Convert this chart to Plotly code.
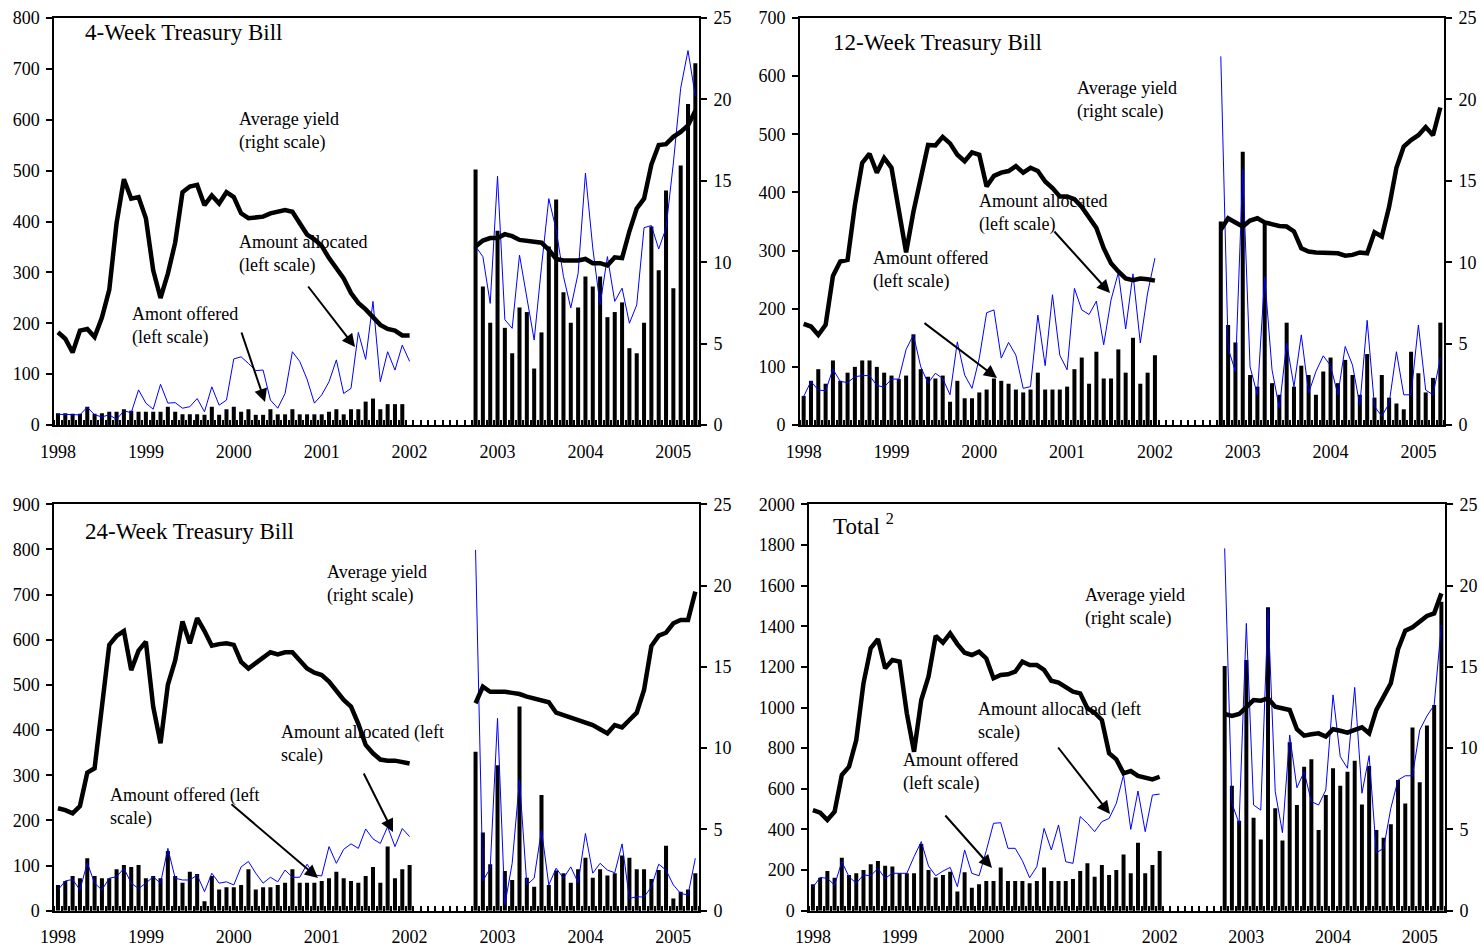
import plotly.graph_objects as go
import pandas as pd

# ---------------- data ----------------
months = pd.period_range("1998-01", "2005-04", freq="M")
period_1 = pd.period_range("1998-01", "2002-01", freq="M")
period_2 = pd.period_range("2002-10", "2005-04", freq="M")
year_labels = ["1998", "1999", "2000", "2001", "2002", "2003", "2004", "2005"]

# 4-Week Treasury Bill
w4_offered_1 = [23, 23, 22, 22, 36, 22, 23, 26, 26, 31, 28, 26,
                26, 26, 26, 36, 26, 21, 21, 21, 20, 36, 20, 31,
                36, 26, 31, 20, 20, 31, 21, 21, 31, 21, 21, 21,
                21, 26, 31, 21, 31, 31, 46, 52, 31, 41, 41, 41, None]
w4_allocated_1 = [21, 21, 20, 20, 35, 20, 16, 20, 11, 28, 24, 69,
                  43, 31, 80, 43, 44, 33, 36, 52, 26, 75, 39, 49,
                  130, 134, 121, 107, 108, 49, 33, 62, 144, 125, 90, 43,
                  59, 85, 128, 62, 72, 182, 129, 243, 85, 144, 108, 157, 125]
w4_yield_1 = [5.7, 5.3, 4.45, 5.8, 5.9, 5.4, 6.6, 8.3, 12.4, 15.1, 13.9, 14.0,
              12.7, 9.5, 7.8, 9.3, 11.2, 14.3, 14.65, 14.75, 13.5, 14.1, 13.6, 14.3,
              14.0, 13.0, 12.7, 12.75, 12.8, 13.0, 13.1, 13.2, 13.1, 12.4, 11.7, 11.4,
              11.0, 10.25, 9.6, 9.0, 8.1, 7.5, 7.1, 6.6, 6.15, 5.9, 5.8, 5.5, 5.5]
w4_offered_2 = [502, 272, 201, 382, 191, 141, 231, 222, 111, 182, 351, 443, 261, 201, 231,
                292, 272, 292, 212, 222, 241, 151, 141, 201, 390, 304, 461, 269, 510, 631, 711]
w4_allocated_2 = [351, 331, 239, 489, 207, 190, 334, 246, 167, 311, 445, 384, 292, 230, 298,
                  495, 348, 236, 331, 243, 269, 200, 236, 388, 392, 346, 387, 515, 662, 736, 646]
w4_yield_2 = [10.96, 11.33, 11.48, 11.48, 11.72, 11.6, 11.37, 11.3, 11.3, 11.2, 10.76, 10.2,
              10.1, 10.1, 10.1, 10.2, 9.94, 9.94, 9.8, 10.3, 10.25, 11.9, 13.3, 13.9, 16.0,
              17.2, 17.25, 17.7, 18.0, 18.4, 19.3]

# 12-Week Treasury Bill
w12_offered_1 = [50, 76, 96, 71, 111, 76, 90, 100, 111, 111, 100, 90,
                 85, 79, 85, 156, 96, 83, 80, 85, 40, 76, 46, 46,
                 56, 61, 80, 76, 71, 61, 56, 61, 90, 61, 61, 61,
                 66, 96, 116, 71, 126, 80, 80, 130, 90, 150, 71, 90, 120]
w12_allocated_1 = [49, 75, 60, 59, 96, 75, 73, 83, 85, 85, 68, 65,
                   79, 79, 130, 155, 100, 72, 89, 80, 52, 143, 86, 63,
                   115, 193, 198, 115, 142, 120, 63, 66, 189, 102, 224, 120,
                   95, 235, 198, 190, 213, 138, 215, 262, 165, 260, 141, 227, 287]
w12_yield_1 = [6.21, 6.05, 5.53, 6.15, 9.16, 10.04, 10.14, 13.5, 16.1, 16.66, 15.5, 16.4,
               15.8, 13.0, 10.6, 13.1, 15.2, 17.2, 17.17, 17.7, 17.3, 16.6, 16.2, 16.74,
               16.6, 14.65, 15.3, 15.5, 15.6, 15.9, 15.5, 15.8, 15.6, 14.96, 14.55, 14.04,
               14.04, 13.87, 13.4, 12.7, 12.1, 10.86, 9.94, 9.43, 9.0, 8.9, 9.0, 8.95, 8.87]
w12_offered_2 = [350, 172, 142, 470, 86, 66, 347, 72, 52, 176, 66, 102, 86, 52, 92,
                 116, 72, 112, 86, 52, 122, 47, 86, 47, 37, 27, 126, 89, 56, 81, 176]
w12_allocated_2 = [634, 132, 92, 439, 100, 52, 255, 95, 29, 141, 66, 155, 55, 92, 119,
                   102, 52, 135, 103, 34, 180, 32, 15, 37, 126, 52, 52, 172, 60, 52, 115]
w12_yield_2 = [11.99, 12.7, 12.44, 12.19, 12.56, 12.7, 12.44, 12.3, 12.23, 12.19, 11.89, 10.86,
               10.66, 10.6, 10.6, 10.55, 10.55, 10.4, 10.45, 10.6, 10.55, 11.84, 11.58, 13.4,
               15.8, 17.1, 17.5, 17.8, 18.3, 17.8, 19.5]

# 24-Week Treasury Bill
w24_offered_1 = [57, 66, 77, 72, 116, 77, 72, 72, 92, 101, 97, 101,
                 72, 77, 72, 132, 77, 62, 86, 81, 21, 77, 47, 52,
                 52, 57, 92, 47, 52, 52, 57, 62, 92, 62, 62, 62,
                 66, 72, 86, 72, 66, 62, 77, 97, 62, 142, 72, 92, 101]
w24_allocated_1 = [46, 66, 69, 46, 106, 61, 46, 72, 75, 94, 61, 49,
                   61, 75, 61, 138, 72, 68, 68, 79, 42, 83, 61, 64,
                   57, 97, 109, 83, 61, 74, 64, 90, 74, 74, 103, 79,
                   77, 142, 105, 136, 148, 138, 181, 159, 149, 186, 142, 182, 164]
w24_yield_1 = [6.3, 6.19, 5.99, 6.44, 8.49, 8.76, 12.55, 16.35, 16.9, 17.2, 14.8, 16.0,
               16.55, 12.55, 10.3, 13.9, 15.4, 17.8, 16.45, 18.0, 17.2, 16.3, 16.4, 16.45,
               16.35, 15.3, 14.9, 15.26, 15.6, 15.9, 15.77, 15.9, 15.9, 15.4, 14.9, 14.64,
               14.5, 14.1, 13.5, 12.96, 12.55, 11.5, 10.2, 9.68, 9.3, 9.23, 9.23, 9.17, 9.06]
w24_offered_2 = [352, 173, 103, 322, 88, 68, 452, 73, 53, 256, 57, 89, 83, 62, 92,
                 117, 73, 92, 78, 83, 122, 117, 92, 92, 70, 90, 144, 27, 42, 47, 83]
w24_allocated_2 = [799, 66, 94, 426, 13, 105, 290, 57, 72, 179, 57, 94, 72, 97, 62,
                   171, 83, 105, 90, 84, 148, 27, 31, 30, 53, 103, 90, 57, 38, 35, 116]
w24_yield_2 = [12.76, 13.78, 13.47, 13.47, 13.47, 13.4, 13.33, 13.17, 13.06, 12.92, 12.82, 12.18,
               12.04, 11.87, 11.73, 11.63, 11.42, 11.16, 10.91, 11.42, 11.28, 11.73, 12.18, 13.58,
               16.28, 16.92, 17.1, 17.68, 17.88, 17.88, 19.63]

# Total
tot_offered_1 = [130, 162, 195, 162, 261, 176, 184, 200, 228, 244, 221, 217,
                 184, 184, 184, 328, 200, 164, 176, 192, 94, 189, 113, 130,
                 146, 146, 213, 146, 146, 146, 135, 146, 213, 146, 146, 146,
                 156, 195, 233, 167, 225, 176, 200, 277, 184, 335, 184, 225, 294]
tot_allocated_1 = [115, 164, 159, 126, 241, 167, 135, 176, 172, 208, 159, 184,
                   184, 184, 266, 340, 220, 172, 195, 213, 118, 299, 184, 172,
                   295, 430, 433, 307, 307, 246, 162, 217, 405, 299, 422, 241,
                   233, 463, 430, 389, 438, 454, 528, 668, 400, 589, 389, 569, 574]
tot_yield_1 = [6.19, 6.03, 5.58, 6.09, 8.35, 8.86, 10.5, 13.99, 16.14, 16.71, 14.91, 15.42,
               15.32, 12.14, 9.78, 12.96, 14.4, 16.9, 16.49, 17.06, 16.4, 15.87, 15.73, 15.93,
               15.52, 14.3, 14.5, 14.54, 14.7, 15.32, 15.11, 15.11, 14.81, 14.15, 14.03, 13.78,
               13.47, 13.37, 12.45, 12.18, 11.73, 9.68, 9.31, 8.45, 8.59, 8.29, 8.2, 8.08, 8.24]
tot_offered_2 = [1204, 615, 443, 1234, 458, 351, 1493, 504, 345, 829, 520, 709, 745, 397, 569,
                 701, 615, 684, 738, 523, 712, 397, 359, 425, 643, 528, 901, 632, 912, 1012, 1521]
tot_allocated_2 = [1783, 528, 430, 1414, 520, 495, 1485, 586, 384, 865, 605, 684, 537, 520, 594,
                   1062, 758, 701, 1099, 578, 763, 285, 307, 504, 643, 664, 664, 889, 958, 1012, 1406]
tot_yield_2 = [12.1, 11.98, 12.1, 12.55, 12.96, 12.92, 13.06, 12.55, 12.45, 12.35, 11.16, 10.77,
               10.85, 10.91, 10.71, 11.16, 11.07, 10.95, 11.12, 11.28, 10.91, 12.35, 13.17, 13.99,
               16.08, 17.23, 17.43, 17.78, 18.13, 18.29, 19.52]

# ---------------- helpers ----------------
month_pos = {p: i for i, p in enumerate(months)}
x_all = list(range(len(months)))


def full_series(first, second):
    vals = {}
    for p, v in zip(period_1, first):
        vals[month_pos[p]] = v
    for p, v in zip(period_2, second):
        vals[month_pos[p]] = v
    return [vals.get(i) for i in x_all]


W, H = 1481, 946
FONT = "Liberation Serif"


def px(x):
    return x / W


def py(y):
    return 1 - y / H


panels = [
    dict(title="4-Week Treasury Bill", off=(w4_offered_1, w4_offered_2),
         alloc=(w4_allocated_1, w4_allocated_2), yld=(w4_yield_1, w4_yield_2),
         lmax=800, ldt=100, xd=(54.3, 699), yd=(18, 425),
         title_pos=(83, 33),
         texts=[("Average yield<br>(right scale)", 237, 131),
                ("Amount allocated<br>(left scale)", 237, 254),
                ("Amont offered<br>(left scale)", 130, 326)],
         arrows=[((307, 285), (355, 347)), ((241, 331), (265, 402))]),
    dict(title="12-Week Treasury Bill", off=(w12_offered_1, w12_offered_2),
         alloc=(w12_allocated_1, w12_allocated_2), yld=(w12_yield_1, w12_yield_2),
         lmax=700, ldt=100, xd=(800, 1444), yd=(18, 425),
         title_pos=(831, 43),
         texts=[("Average yield<br>(right scale)", 1075, 100),
                ("Amount allocated<br>(left scale)", 977, 213),
                ("Amount offered<br>(left scale)", 871, 270)],
         arrows=[((1053, 230), (1110, 293)), ((923, 322), (997, 378))]),
    dict(title="24-Week Treasury Bill", off=(w24_offered_1, w24_offered_2),
         alloc=(w24_allocated_1, w24_allocated_2), yld=(w24_yield_1, w24_yield_2),
         lmax=900, ldt=100, xd=(54.3, 699), yd=(504.3, 910.7),
         title_pos=(83, 531),
         texts=[("Average yield<br>(right scale)", 325, 584),
                ("Amount allocated (left<br>scale)", 279, 744),
                ("Amount offered (left<br>scale)", 108, 807)],
         arrows=[((363, 772), (393, 832)), ((230, 803), (318, 878))]),
    dict(title="Total <sup>2</sup>", off=(tot_offered_1, tot_offered_2),
         alloc=(tot_allocated_1, tot_allocated_2), yld=(tot_yield_1, tot_yield_2),
         lmax=2000, ldt=200, xd=(809.3, 1445), yd=(504.3, 910.7),
         title_pos=(831, 524),
         texts=[("Average yield<br>(right scale)", 1083, 607),
                ("Amount allocated (left<br>scale)", 976, 721),
                ("Amount offered<br>(left scale)", 901, 772)],
         arrows=[((1057, 746), (1110, 814)), ((944, 814), (992, 868))]),
]

fig = go.Figure()
layout = dict(
    template="none",
    width=W, height=H, margin=dict(l=0, r=0, t=0, b=0, pad=0, autoexpand=False),
    paper_bgcolor="white", plot_bgcolor="white", showlegend=False,
    font=dict(family=FONT, size=18, color="black"),
)
annotations = []
year_ticks = [month_pos[pd.Period(f"{y}-01", freq="M")] for y in year_labels]

for k, p in enumerate(panels, start=1):
    xa = "x" if k == 1 else f"x{k}"
    yl_n, yr_n = 2 * k - 1, 2 * k
    yl = "y" if yl_n == 1 else f"y{yl_n}"
    yr = f"y{yr_n}"

    fig.add_trace(go.Bar(x=x_all, y=full_series(*p["off"]), xaxis=xa, yaxis=yl,
                         marker=dict(color="black", line=dict(width=0)), width=0.55))
    fig.add_trace(go.Scatter(x=x_all, y=full_series(*p["alloc"]), xaxis=xa, yaxis=yl,
                             mode="lines", line=dict(color="#0000ff", width=1),
                             connectgaps=False))
    fig.add_trace(go.Scatter(x=x_all, y=full_series(*p["yld"]), xaxis=xa, yaxis=yr,
                             mode="lines", line=dict(color="black", width=4.5),
                             connectgaps=False))

    xdom = [px(p["xd"][0]), px(p["xd"][1])]
    ydom = [py(p["yd"][1]), py(p["yd"][0])]
    axis_common = dict(showgrid=False, zeroline=False, showline=True, automargin=False,
                       linecolor="black", linewidth=2,
                       tickfont=dict(family=FONT, size=18, color="black"))
    layout["xaxis" if k == 1 else f"xaxis{k}"] = dict(
        domain=xdom, anchor=yl, range=[-0.5, len(months) - 0.5],
        tickmode="array", tickvals=year_ticks, ticktext=year_labels,
        ticks="", ticklabelstandoff=9, mirror=True,
        minor=dict(tickmode="linear", tick0=-0.5, dtick=1, ticks="inside",
                   ticklen=5, tickwidth=2, tickcolor="black", showgrid=False),
        **axis_common)
    layout["yaxis" if yl_n == 1 else f"yaxis{yl_n}"] = dict(
        domain=ydom, anchor=xa, range=[0, p["lmax"]], dtick=p["ldt"],
        ticks="outside", ticklen=6, tickwidth=2, tickcolor="black",
        ticklabelstandoff=3, **axis_common)
    layout[f"yaxis{yr_n}"] = dict(
        overlaying=yl, side="right", anchor=xa, range=[0, 25], dtick=5,
        ticks="outside", ticklen=6, tickwidth=2, tickcolor="black",
        ticklabelstandoff=3, **axis_common)

    annotations.append(dict(text=p["title"], x=px(p["title_pos"][0]), y=py(p["title_pos"][1]),
                            xref="paper", yref="paper", xanchor="left", yanchor="middle",
                            showarrow=False, font=dict(family=FONT, size=23, color="black")))
    for t, tx, ty in p["texts"]:
        annotations.append(dict(text=t, x=px(tx), y=py(ty), xref="paper", yref="paper",
                                xanchor="left", yanchor="middle", align="left",
                                showarrow=False, font=dict(family=FONT, size=18, color="black")))
    for (tail, head) in p["arrows"]:
        annotations.append(dict(text="", x=px(head[0]), y=py(head[1]), xref="paper", yref="paper",
                                ax=tail[0] - head[0], ay=tail[1] - head[1],
                                showarrow=True, arrowhead=2, arrowsize=1.3, arrowwidth=2,
                                arrowcolor="black", standoff=0))

layout["annotations"] = annotations
fig.update_layout(**layout)
fig.write_html(
    "out.html",
    config={"displayModeBar": False},
    post_script="document.body.style.margin='0';document.body.style.padding='0';"
                "document.body.style.overflow='hidden';",
)
